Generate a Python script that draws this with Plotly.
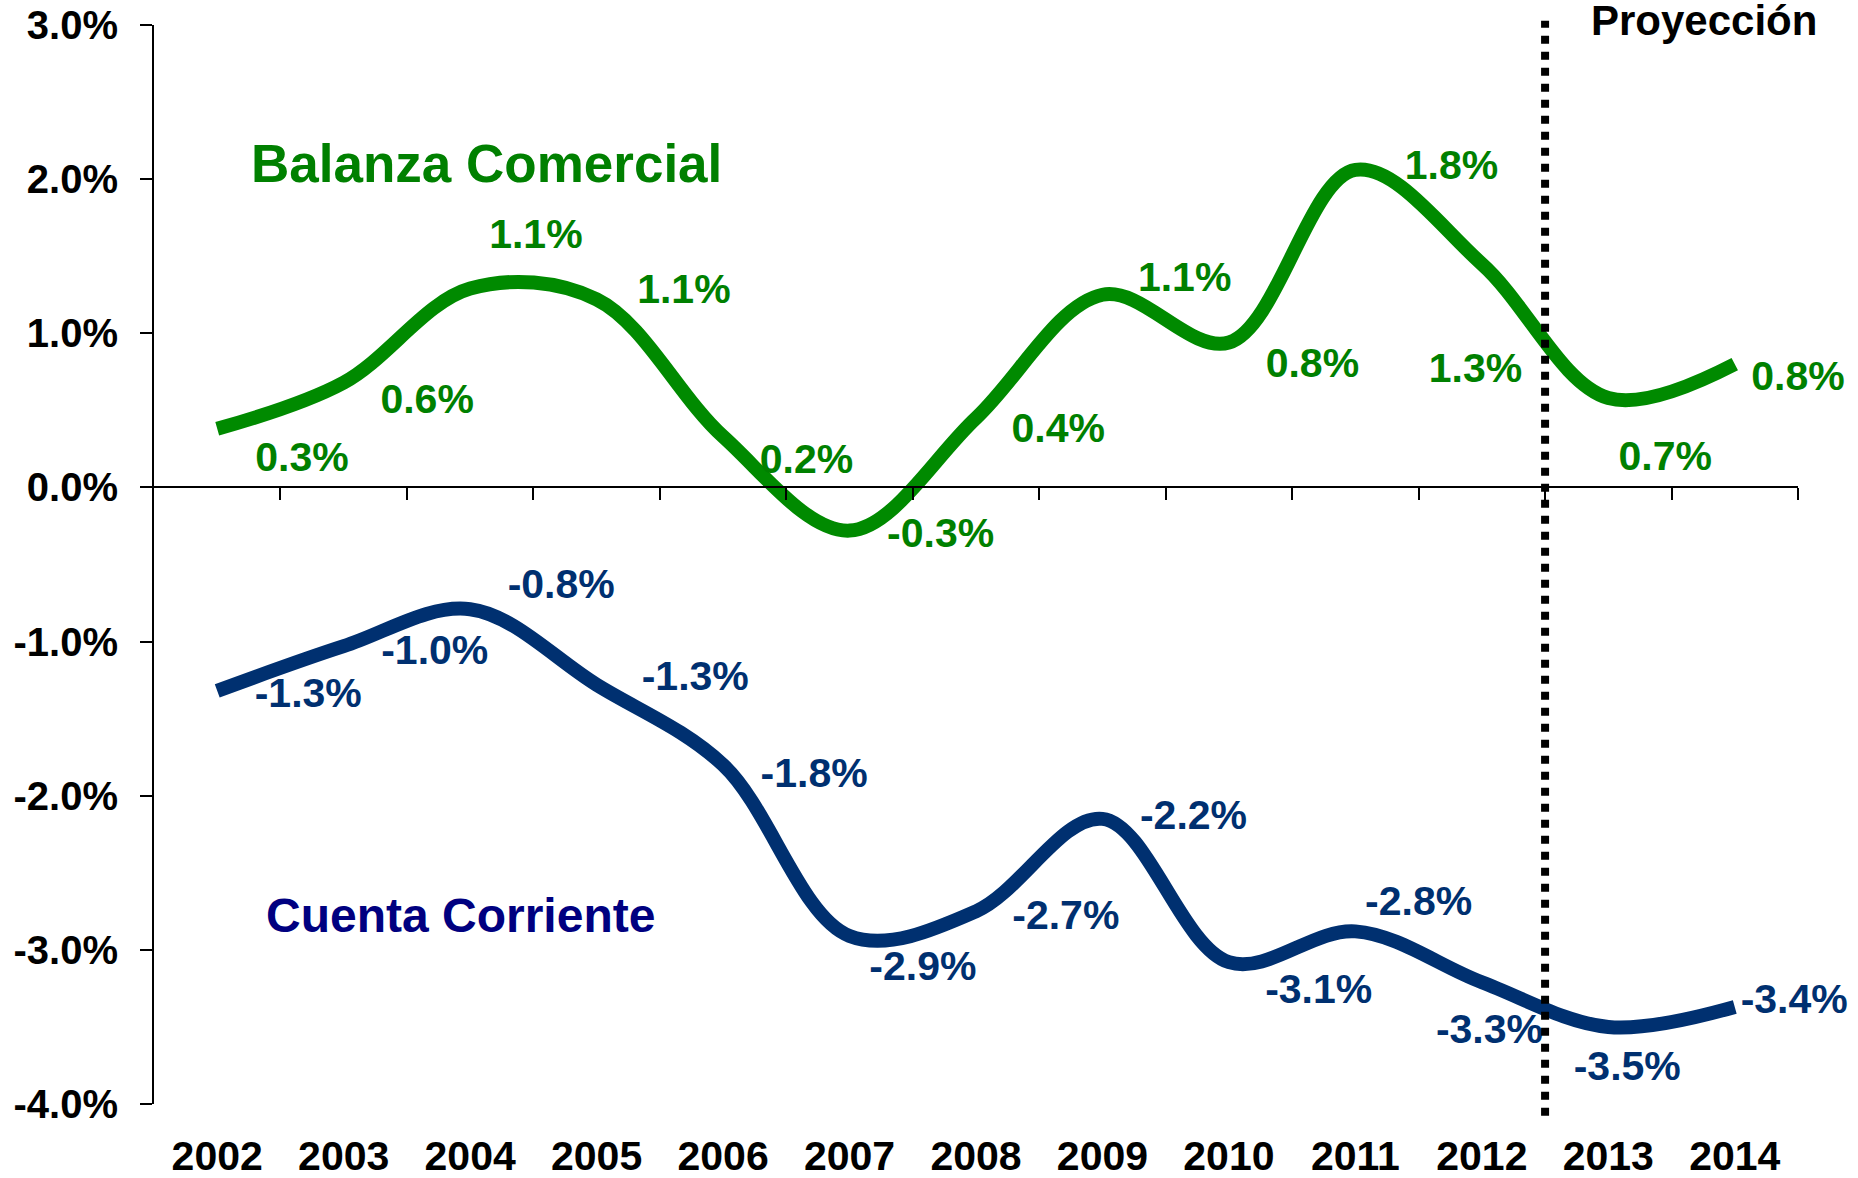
import plotly.graph_objects as go

years = list(range(2002, 2015))
year_labels = [str(y) for y in years]

# Line values (% of GDP)
balanza = [0.38, 0.68, 1.29, 1.22, 0.33, -0.28, 0.45, 1.25, 0.94, 2.06, 1.45, 0.58, 0.80]
cuenta = [-1.32, -1.03, -0.79, -1.28, -1.80, -2.91, -2.75, -2.15, -3.08, -2.88, -3.21, -3.50, -3.37]

# Data label values
balanza_lbl = [0.3, 0.6, 1.1, 1.1, 0.2, -0.3, 0.4, 1.1, 0.8, 1.8, 1.3, 0.7, 0.8]
cuenta_lbl = [-1.3, -1.0, -0.8, -1.3, -1.8, -2.9, -2.7, -2.2, -3.1, -2.8, -3.3, -3.5, -3.4]

y_ticks = [3, 2, 1, 0, -1, -2, -3, -4]
y_tick_labels = ["3.0%", "2.0%", "1.0%", "0.0%", "-1.0%", "-2.0%", "-3.0%", "-4.0%"]

# label placement offsets (style)
bal_dx = [0.67, 0.66, 0.52, 0.69, 0.66, 0.72, 0.65, 0.65, 0.66, 0.76, -0.05, 0.45, 0.50]
bal_dy = [-0.21, -0.13, 0.33, 0.04, -0.17, -0.04, -0.09, 0.09, -0.16, 0.01, -0.70, -0.40, -0.10]
cc_dx = [0.72, 0.72, 0.72, 0.78, 0.72, 0.58, 0.71, 0.72, 0.71, 0.50, 0.06, 0.15, 0.47]
cc_dy = [-0.04, -0.05, 0.14, 0.03, -0.08, -0.22, -0.05, 0.0, -0.20, 0.17, -0.33, -0.28, 0.03]

GREEN = "#008A00"
GREEN_T = "#008000"
BLUE = "#003070"
NAVY = "#000080"
FONT = "Liberation Sans, Arial, sans-serif"

def fmt(v):
    return f"{v:.1f}%"

fig = go.Figure()

fig.add_trace(go.Scatter(x=years, y=balanza, mode="lines",
                         line=dict(color=GREEN, width=14, shape="spline", smoothing=1.0),
                         hoverinfo="skip", showlegend=False))
fig.add_trace(go.Scatter(x=years, y=cuenta, mode="lines",
                         line=dict(color=BLUE, width=14, shape="spline", smoothing=1.0),
                         hoverinfo="skip", showlegend=False))

fig.add_trace(go.Scatter(
    x=[y + d for y, d in zip(years, bal_dx)],
    y=[v + d for v, d in zip(balanza, bal_dy)],
    text=[fmt(v) for v in balanza_lbl], mode="text", textposition="middle center",
    textfont=dict(family=FONT, size=41, color=GREEN_T, weight="bold"),
    cliponaxis=False, hoverinfo="skip", showlegend=False))
fig.add_trace(go.Scatter(
    x=[y + d for y, d in zip(years, cc_dx)],
    y=[v + d for v, d in zip(cuenta, cc_dy)],
    text=[fmt(v) for v in cuenta_lbl], mode="text", textposition="middle center",
    textfont=dict(family=FONT, size=41, color=BLUE, weight="bold"),
    cliponaxis=False, hoverinfo="skip", showlegend=False))

# invisible trace to carry the zero-line axis
fig.add_trace(go.Scatter(x=[years[0]], y=[0], xaxis="x2", mode="markers",
                         marker=dict(opacity=0), hoverinfo="skip", showlegend=False))

fig.add_shape(type="line", xref="x", yref="paper", x0=2012.5, x1=2012.5,
              y0=-0.011, y1=1.004, line=dict(color="black", width=8, dash="dot"))

fig.add_annotation(x=2004.13, y=2.10, text="Balanza Comercial", showarrow=False,
                   font=dict(family=FONT, size=53, color=GREEN_T, weight="bold"))
fig.add_annotation(x=2003.92, y=-2.78, text="Cuenta Corriente", showarrow=False,
                   font=dict(family=FONT, size=48, color=NAVY, weight="bold"))
fig.add_annotation(x=2013.76, xref="x", y=1.004, yref="paper", text="Proyección",
                   showarrow=False, yanchor="middle",
                   font=dict(family=FONT, size=42, color="black", weight="bold"))

fig.update_layout(
    width=1858, height=1178,
    margin=dict(l=154, r=60, t=25, b=74, autoexpand=False),
    paper_bgcolor="white", plot_bgcolor="white",
    xaxis=dict(range=[2001.5, 2014.5], tickvals=years, ticktext=year_labels,
               showgrid=False, zeroline=False, showline=False, ticks="",
               ticklabelstandoff=24, automargin=False, ticklabeloverflow="allow",
               tickfont=dict(family=FONT, size=41, color="black", weight="bold")),
    xaxis2=dict(range=[2001.5, 2014.5], overlaying="x", anchor="free", position=4/7,
                side="bottom", tickvals=[y + 0.5 for y in years], showticklabels=False,
                ticks="outside", ticklen=12, tickwidth=2, tickcolor="black", automargin=False,
                showline=True, linewidth=2, linecolor="black", showgrid=False, zeroline=False),
    yaxis=dict(range=[-4, 3], tickvals=y_ticks, ticktext=y_tick_labels,
               showgrid=False, zeroline=False, showline=True, linewidth=2, linecolor="black",
               ticks="outside", ticklen=12, tickwidth=2, tickcolor="black",
               ticklabelstandoff=14, automargin=False, ticklabeloverflow="allow",
               tickfont=dict(family=FONT, size=40, color="black", weight="bold")),
)

fig.write_html("out.html", config={"displayModeBar": False},
               post_script="document.body.style.margin='0';document.body.style.overflow='hidden';")
